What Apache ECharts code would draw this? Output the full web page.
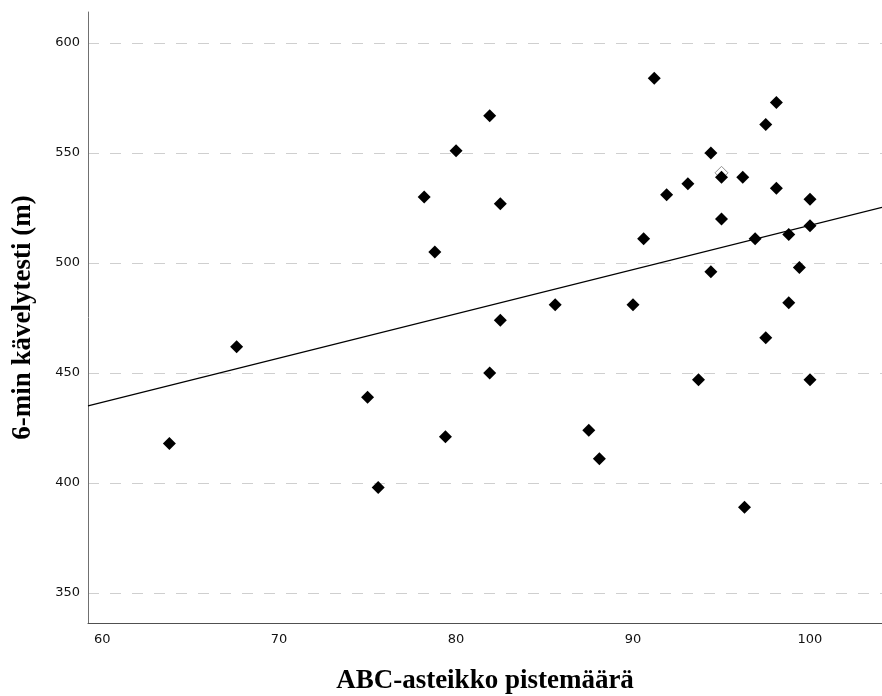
<!DOCTYPE html>
<html>
<head>
<meta charset="utf-8">
<script src="https://cdn.jsdelivr.net/npm/echarts@6/dist/echarts.min.js"></script>
<style>html,body{margin:0;padding:0;background:#fff}#c{width:882px;height:696px}</style>
</head>
<body>
<div id="c"></div>
<script>
// ABC-asteikko pistemäärä (x) and 6-min kävelytesti (m) (y)
const abcScores = [63.8, 67.6, 75.0, 75.6, 78.2, 78.8, 79.4, 80.0, 81.9, 81.9, 82.5, 82.5, 85.6, 87.5, 88.1, 90.0, 90.6, 91.2, 91.9, 93.1, 93.7, 94.4, 94.4, 95.0, 95.0, 96.2, 96.3, 96.9, 97.5, 97.5, 98.1, 98.1, 98.8, 98.8, 99.4, 100, 100, 100];
const walkMeters = [418, 462, 439, 398, 530, 505, 421, 551, 567, 450, 527, 474, 481, 424, 411, 481, 511, 584, 531, 536, 447, 550, 496, 539, 520, 539, 389, 511, 563, 466, 573, 534, 513, 482, 498, 529, 517, 447];
// overlapping (duplicate) observation drawn as hollow marker
const dupAbc = [95.0];
const dupWalk = [541];
// fitted regression line endpoints (at axis limits)
const fitX = [59.2, 104.07];
const fitY = [435.1, 525.3];
const xTicks = [60, 70, 80, 90, 100];
const yTicks = [350, 400, 450, 500, 550, 600];
const xMin = 59.2, xMax = 104.07, yMin = 336.4, yMax = 614.1;

const pts = abcScores.map((x, i) => [x, walkMeters[i]]);
const dup = dupAbc.map((x, i) => [x, dupWalk[i]]);
const fit = fitX.map((x, i) => [x, fitY[i]]);

const chart = echarts.init(document.getElementById('c'), null, {renderer: 'canvas'});
chart.setOption({
  animation: false,
  backgroundColor: '#ffffff',
  grid: {left: 88, right: 0, top: 12, bottom: 73, containLabel: false, outerBoundsMode: 'none'},
  xAxis: {
    type: 'value', min: xMin, max: xMax,
    name: 'ABC-asteikko pistemäärä', nameLocation: 'middle', nameGap: 45,
    nameTextStyle: {fontFamily: 'Liberation Serif', fontWeight: 'bold', fontSize: 27, color: '#000'},
    axisLine: {show: true, onZero: false, lineStyle: {color: '#505050', width: 1}},
    axisTick: {show: false, customValues: xTicks},
    axisLabel: {customValues: xTicks, color: '#111', fontFamily: 'DejaVu Sans', fontSize: 13, margin: 10},
    splitLine: {show: false}
  },
  yAxis: {
    type: 'value', min: yMin, max: yMax,
    name: '6-min kävelytesti (m)', nameLocation: 'middle', nameGap: 51, nameRotate: 90,
    nameTextStyle: {fontFamily: 'Liberation Serif', fontWeight: 'bold', fontSize: 27, color: '#000'},
    axisLine: {show: true, onZero: false, lineStyle: {color: '#707070', width: 1}},
    axisTick: {show: false, customValues: yTicks},
    axisLabel: {customValues: yTicks, color: '#111', fontFamily: 'DejaVu Sans', fontSize: 13, margin: 8},
    splitLine: {show: false}
  },
  series: [
    {
      type: 'line', data: [], silent: true, z: 0,
      markLine: {
        silent: true, symbol: 'none', label: {show: false}, z: 0,
        lineStyle: {color: '#cfcfcf', type: [11, 11], width: 1},
        data: yTicks.map(v => ({yAxis: v}))
      }
    },
    {
      type: 'scatter', data: dup, symbol: 'diamond', symbolSize: 13, z: 2,
      itemStyle: {color: '#ffffff', borderColor: '#909090', borderWidth: 1, opacity: 1}
    },
    {
      type: 'scatter', data: pts, symbol: 'diamond', symbolSize: 13, z: 3,
      itemStyle: {color: '#000000', opacity: 1}
    },
    {
      type: 'line', data: fit, symbol: 'none', z: 4,
      lineStyle: {color: '#000', width: 1.2}
    }
  ]
});
</script>
</body>
</html>
